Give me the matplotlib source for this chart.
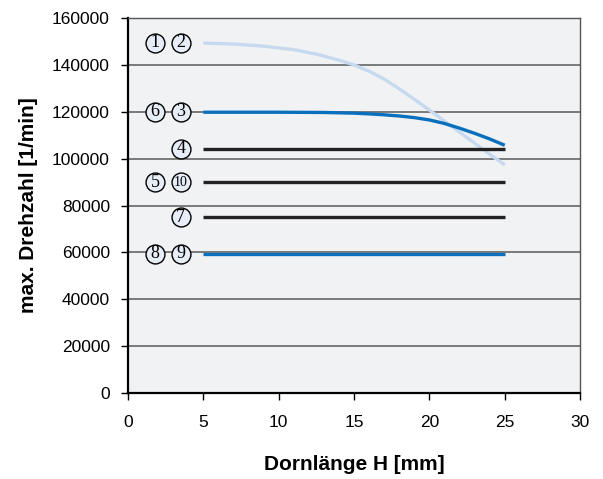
import matplotlib
matplotlib.use("Agg")
import matplotlib.pyplot as plt

# Dornlänge H [mm] and max. Drehzahl [1/min] per Spindeltyp
h_12 = [5, 7, 9, 11, 12.5, 14, 15, 16, 17, 18, 19, 20.2, 21, 22, 23, 24, 25]
n_12 = [149300, 148900, 148000, 146500, 144600, 142000, 140000, 137300, 133900,
        129800, 125300, 119800, 116000, 111300, 106600, 101900, 97300]

h_63 = [5, 10, 13, 15, 16, 17, 18, 19, 20, 21, 22, 23, 24, 25]
n_63 = [119800, 119800, 119700, 119400, 119100, 118700, 118200, 117500, 116500,
        115000, 113000, 110800, 108400, 105700]

h_flat = [5, 25]
n_4 = [104300, 104300]
n_510 = [90000, 90000]
n_7 = [75000, 75000]
n_89 = [59500, 59500]

# circled curve markers: (x position, y value, number)
marker_labels = [
    (1.8, 149500, "1"), (3.5, 149500, "2"),
    (1.8, 120000, "6"), (3.5, 120000, "3"),
    (3.5, 104300, "4"),
    (1.8, 90000, "5"), (3.5, 90000, "10"),
    (3.5, 75000, "7"),
    (1.8, 59500, "8"), (3.5, 59500, "9"),
]

x_ticks = [0, 5, 10, 15, 20, 25, 30]
y_ticks = list(range(0, 160001, 20000))

plt.rcParams["font.family"] = ["Liberation Sans", "DejaVu Sans"]

fig = plt.figure(figsize=(6.03, 4.79), dpi=100)
ax = fig.add_axes([0.2123, 0.1795, 0.7497, 0.7829])
ax.set_facecolor("#f1f2f4")

ax.set_xlim(0, 30)
ax.set_ylim(0, 160000)
ax.set_xticks(x_ticks)
ax.set_yticks(y_ticks)
ax.set_yticklabels([str(v) for v in y_ticks])
ax.tick_params(axis="both", direction="out", length=5, width=1, labelsize=12.5, colors="black")
ax.tick_params(axis="y", pad=8)
ax.tick_params(axis="x", pad=11)

ax.yaxis.grid(True, color="#5a5a5a", linewidth=1.1, zorder=1)
ax.set_axisbelow(True)

for side in ["left", "bottom"]:
    ax.spines[side].set_linewidth(1.6)
    ax.spines[side].set_color("black")
for side in ["top", "right"]:
    ax.spines[side].set_linewidth(1.0)
    ax.spines[side].set_color("#555555")

light_blue = "#c6d9ef"
blue = "#0a70bd"
dark = "#222222"

ax.plot(h_12, n_12, color=light_blue, lw=2.4, zorder=3, solid_capstyle="butt", solid_joinstyle="round")
ax.plot(h_63, n_63, color=blue, lw=2.4, zorder=4, solid_capstyle="butt", solid_joinstyle="round")
ax.plot(h_flat, n_4, color=dark, lw=2.4, zorder=3, solid_capstyle="butt")
ax.plot(h_flat, n_510, color=dark, lw=2.4, zorder=3, solid_capstyle="butt")
ax.plot(h_flat, n_7, color=dark, lw=2.4, zorder=3, solid_capstyle="butt")
ax.plot(h_flat, n_89, color=blue, lw=2.4, zorder=3, solid_capstyle="butt")

for x, y, num in marker_labels:
    ax.scatter([x], [y], s=185, facecolor="#e6edf6", edgecolor="black", linewidth=1.0, zorder=5)
    size = 10 if len(num) > 1 else 13
    ax.text(x, y, num, ha="center", va="center", fontsize=size,
            family="Liberation Serif", zorder=6)

ax.set_xlabel("Dornlänge H [mm]", fontsize=15, fontweight="bold", labelpad=18)
ax.set_ylabel("max. Drehzahl [1/min]", fontsize=15, fontweight="bold", labelpad=10)

fig.savefig("out.png", dpi=100, facecolor="white")
